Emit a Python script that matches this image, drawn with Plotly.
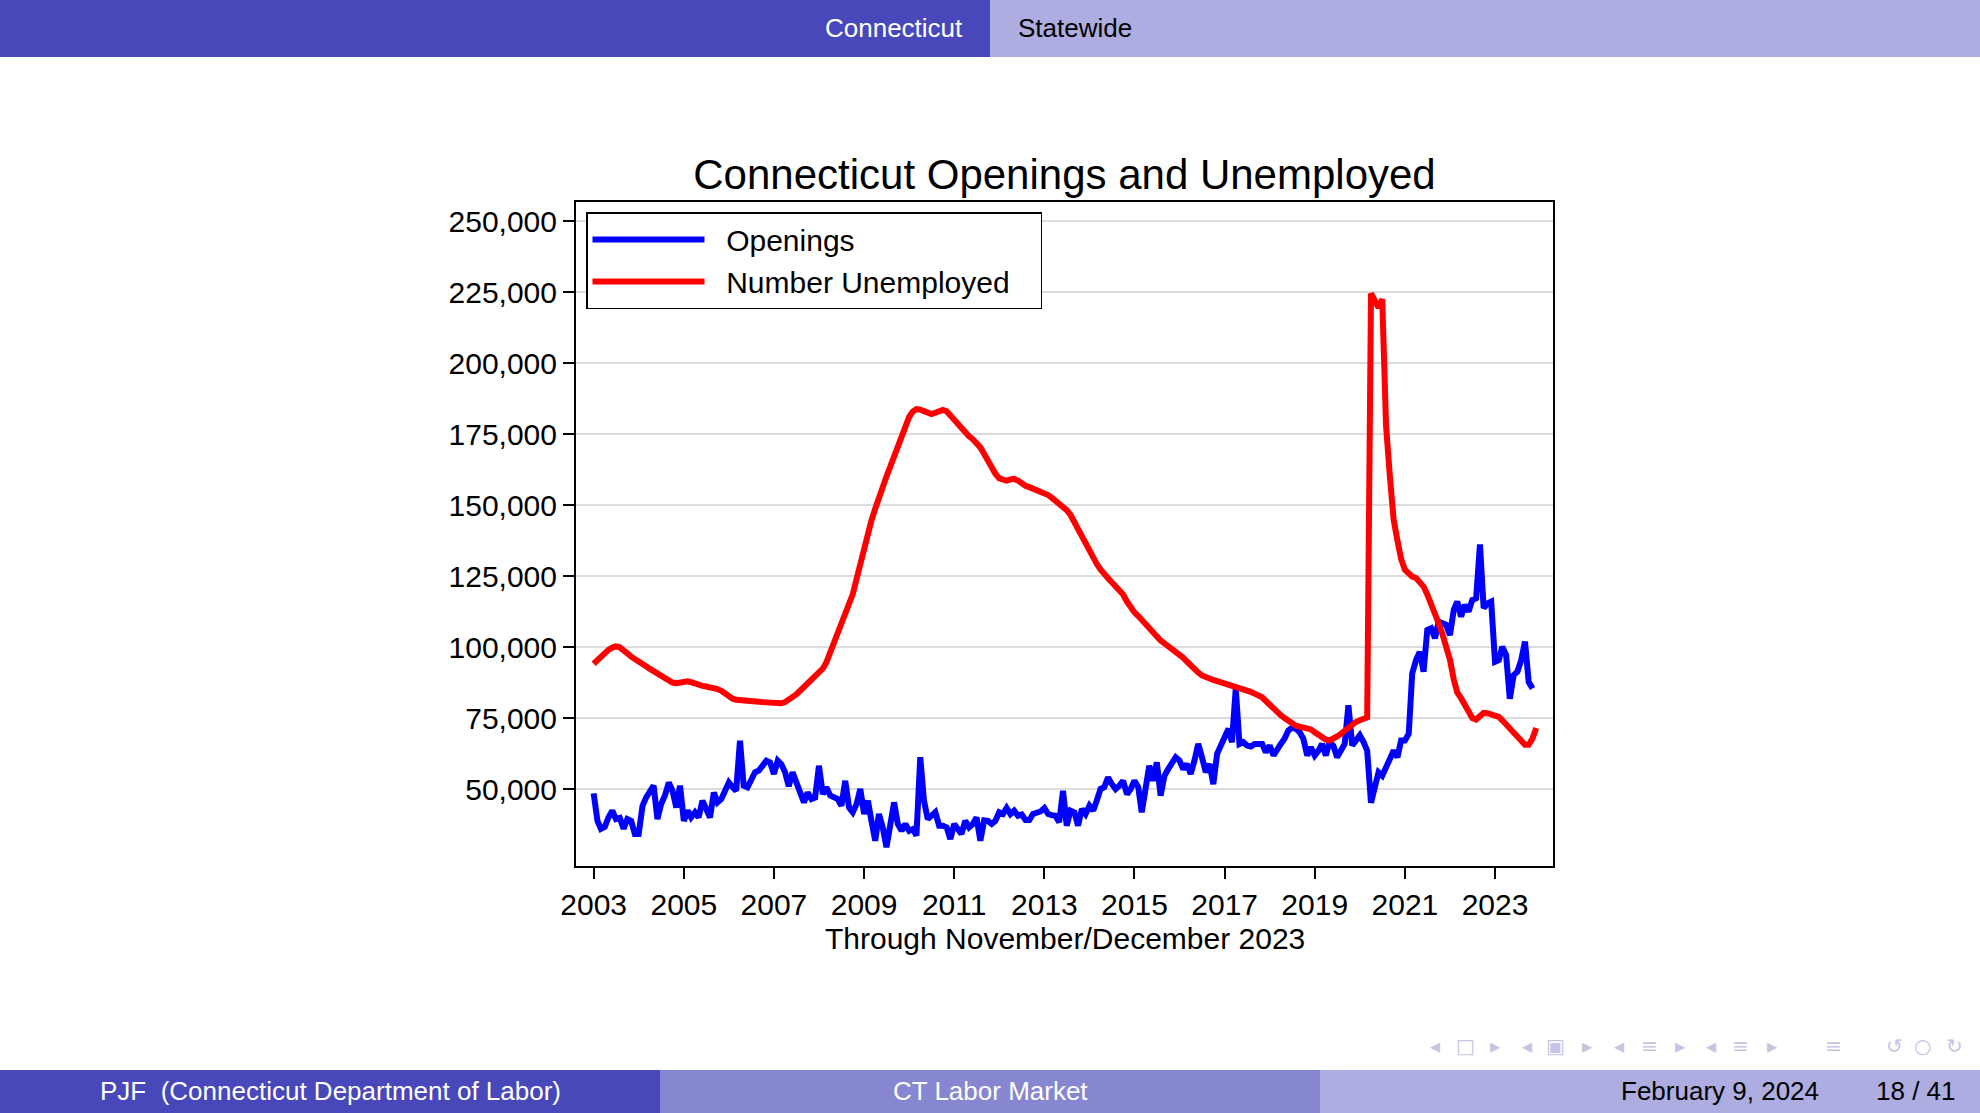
import pandas as pd
import plotly.graph_objects as go

# ---------------- data (thousands, monthly from Jan 2003) ----------------
openings_k = [
    48.5, 38.8, 36.0, 36.7, 40.0, 42.4, 39.4, 39.8, 36.0, 39.4, 38.8, 34.2,
    34.2, 44.1, 47.0, 48.8, 51.2, 39.4, 44.7, 47.7, 52.3, 49.4, 43.5, 51.2,
    38.8, 42.4, 40.0, 41.8, 40.0, 45.9, 42.4, 40.0, 48.8, 45.3, 46.5, 50.0,
    52.3, 50.6, 49.4, 67.0, 51.2, 50.6, 53.5, 55.9, 56.5, 58.2, 60.0, 59.4,
    55.3, 60.0, 58.8, 56.0, 51.0, 55.9, 52.3, 49.4, 45.3, 48.8, 46.5, 47.0,
    58.2, 48.2, 50.6, 47.7, 47.0, 46.5, 44.1, 52.9, 43.5, 41.8, 44.7, 50.0,
    41.2, 45.9, 38.8, 31.8, 41.2, 36.5, 29.5, 36.5, 45.3, 37.7, 35.3, 37.7,
    35.3, 35.9, 33.6, 61.2, 45.9, 39.4, 40.6, 41.8, 37.1, 37.1, 36.5, 32.4,
    37.7, 35.3, 34.2, 38.8, 36.5, 37.7, 40.0, 31.8, 39.0, 38.8, 37.7, 38.8,
    41.8, 41.2, 43.3, 41.2, 42.4, 40.6, 41.0, 39.1, 39.1, 41.2, 41.4, 42.1,
    43.3, 41.2, 40.8, 40.6, 38.3, 49.4, 37.1, 42.4, 41.8, 37.1, 43.0, 41.2,
    44.1, 42.4, 45.9, 50.0, 50.6, 54.1, 51.8, 50.0, 51.2, 52.9, 48.2, 50.0,
    52.9, 50.6, 41.8, 50.0, 58.2, 52.9, 59.4, 47.7, 54.7, 57.0, 59.4, 61.2,
    60.0, 57.0, 58.8, 55.3, 60.0, 65.9, 61.2, 55.9, 58.8, 51.7, 62.4, 65.3,
    67.1, 71.2, 66.5, 85.4, 65.9, 66.5, 65.3, 65.0, 65.9, 66.1, 65.9, 62.9,
    65.3, 61.8, 64.1, 65.9, 67.7, 70.6, 71.6, 71.2, 70.0, 67.7, 61.8, 64.7,
    61.8, 63.5, 65.9, 61.8, 66.5, 65.3, 61.2, 64.1, 65.9, 79.5, 65.3, 67.1,
    68.9, 66.5, 63.5, 45.2, 51.1, 55.9, 54.7, 58.3, 60.6, 63.6, 61.2, 67.1,
    67.1, 69.5, 90.7, 95.4, 98.3, 91.3, 106.0, 106.6, 103.1, 108.9, 108.4, 107.8,
    104.2, 113.1, 116.0, 110.7, 114.8, 112.5, 116.6, 117.2, 136.1, 113.7, 115.4, 116.0,
    94.8, 95.4, 100.1, 97.2, 81.8, 90.1, 91.3, 95.4, 101.9, 87.7, 85.4,
]

unemployed_k = [
    94.1, 95.5, 96.8, 98.0, 99.0, 99.8, 100.2, 99.9, 99.0, 97.8, 96.6, 95.6,
    94.8, 94.0, 93.2, 92.3, 91.5, 90.5, 89.6, 88.6, 88.0, 87.5, 87.3, 87.5,
    87.8, 87.9, 87.6, 87.0, 86.5, 86.3, 86.1, 85.9, 85.6, 85.2, 84.6, 83.6,
    82.6, 81.8, 81.4, 81.2, 81.1, 81.0, 80.9, 80.8, 80.7, 80.6, 80.5, 80.3,
    80.1, 80.0, 80.2, 80.6, 81.3, 82.0, 83.3, 84.6, 86.0, 87.3, 88.5, 89.8,
    91.0, 92.4, 94.6, 98.0, 101.6, 105.0, 108.3, 111.6, 115.0, 118.6, 124.0, 129.5,
    135.0, 140.0, 144.5, 148.7, 152.8, 156.5, 160.0, 163.5, 167.0, 170.5, 174.5, 178.0,
    181.0, 183.0, 183.8, 183.6, 183.2, 182.5, 182.0, 182.5, 183.2, 183.5, 183.0, 181.5,
    180.0, 178.5, 176.6, 175.2, 174.2, 173.2, 172.0, 170.3, 168.0, 165.5, 163.0, 161.0,
    159.4, 158.8, 158.6, 159.0, 159.2, 158.6, 157.6, 156.8, 156.3, 155.8, 155.3, 154.8,
    154.2, 153.5, 152.6, 151.6, 150.8, 149.8, 148.2, 146.5, 144.0, 141.5, 138.8, 136.0,
    133.4, 131.4, 129.3, 127.3, 125.4, 124.2, 122.8, 121.5, 120.3, 118.5, 116.0, 113.6,
    112.2, 110.9, 109.5, 108.2, 106.8, 105.3, 103.6, 102.3, 101.3, 100.4, 99.6, 98.7,
    97.5, 96.2, 94.9, 93.4, 92.2, 91.0, 90.0, 89.3, 88.8, 88.4, 88.0, 87.6,
    87.3, 87.0, 86.5, 86.0, 85.6, 85.2, 84.7, 84.2, 83.6, 83.0, 82.3, 81.0,
    79.6, 78.2, 76.9, 76.0, 75.0, 74.0, 73.0, 72.3, 72.0, 71.8, 71.7, 71.0,
    70.0, 69.0, 68.0, 67.4, 67.1, 67.6, 68.5, 69.4, 70.6, 71.8, 72.8, 73.6,
    74.2, 74.8, 75.2, 224.5, 221.5, 219.5, 222.5, 178.0, 160.0, 145.0, 137.5, 131.0,
    127.2, 125.5, 124.8, 124.3, 122.5, 121.3, 118.5, 115.4, 111.8, 108.4, 104.5, 100.5,
    95.5, 88.5, 84.0, 82.0, 80.0, 77.8, 75.0, 74.5, 75.9, 76.8, 76.7, 76.3,
    75.9, 75.4, 74.2, 72.8, 71.5, 70.0, 68.9, 67.7, 65.6, 65.6, 67.8, 71.5,
]

y_tick_values = [50000, 75000, 100000, 125000, 150000, 175000, 200000, 225000, 250000]
x_tick_years = [2003, 2005, 2007, 2009, 2011, 2013, 2015, 2017, 2019, 2021, 2023]

months_open = pd.date_range("2003-01-01", periods=len(openings_k), freq="MS")
months_unemp = pd.date_range("2003-01-01", periods=len(unemployed_k), freq="MS")
openings = [v * 1000 for v in openings_k]
unemployed = [v * 1000 for v in unemployed_k]

# ---------------- layout helpers (pixel -> paper) ----------------
W, H = 1980, 1113
PL, PR, PT, PB = 576, 1553, 202, 866


def px(x):
    return (x - PL) / (PR - PL)


def py(y):
    return (PB - y) / (PB - PT)


FONT = "Liberation Sans, Arial, Helvetica, sans-serif"
DARK = "#4848BA"
MID = "#8686D1"
LIGHT = "#ADADE1"
NB = "\u00a0"

fig = go.Figure()
fig.add_trace(go.Scatter(x=months_open, y=openings, mode="lines", name=NB * 2 + "Openings",
                         line=dict(color="#0000FF", width=6)))
fig.add_trace(go.Scatter(x=months_unemp, y=unemployed, mode="lines",
                         name=NB * 2 + "Number Unemployed" + NB * 3,
                         line=dict(color="#FF0000", width=6)))

shapes = [
    dict(type="rect", xref="paper", yref="paper", x0=px(0), x1=px(990), y0=py(57), y1=py(0),
         fillcolor=DARK, line=dict(width=0), layer="below"),
    dict(type="rect", xref="paper", yref="paper", x0=px(990), x1=px(W), y0=py(57), y1=py(0),
         fillcolor=LIGHT, line=dict(width=0), layer="below"),
    dict(type="rect", xref="paper", yref="paper", x0=px(0), x1=px(660), y0=py(H), y1=py(1070),
         fillcolor=DARK, line=dict(width=0), layer="below"),
    dict(type="rect", xref="paper", yref="paper", x0=px(660), x1=px(1320), y0=py(H), y1=py(1070),
         fillcolor=MID, line=dict(width=0), layer="below"),
    dict(type="rect", xref="paper", yref="paper", x0=px(1320), x1=px(W), y0=py(H), y1=py(1070),
         fillcolor=LIGHT, line=dict(width=0), layer="below"),
]

annotations = [
    dict(text="Connecticut", x=px(965), y=py(28), xanchor="right", yanchor="middle",
         font=dict(color="white", size=26, family=FONT)),
    dict(text="Statewide", x=px(1016), y=py(28), xanchor="left", yanchor="middle",
         font=dict(color="black", size=26, family=FONT)),
    dict(text="PJF  (Connecticut Department of Labor)", x=px(330), y=py(1091), xanchor="center",
         yanchor="middle", font=dict(color="white", size=26, family=FONT)),
    dict(text="CT Labor Market", x=px(990), y=py(1091), xanchor="center", yanchor="middle",
         font=dict(color="white", size=26, family=FONT)),
    dict(text="February 9, 2024", x=px(1720), y=py(1091), xanchor="center", yanchor="middle",
         font=dict(color="black", size=26, family=FONT)),
    dict(text="18 / 41", x=px(1916), y=py(1091), xanchor="center", yanchor="middle",
         font=dict(color="black", size=26, family=FONT)),
    dict(text="Through November/December 2023", x=0.5, y=py(938), xanchor="center",
         yanchor="middle", font=dict(color="black", size=30, family=FONT)),
]
nav = [("◂", 1435), ("□", 1465), ("▸", 1495), ("◂", 1527), ("▣", 1555), ("▸", 1587),
       ("◂", 1619), ("≡", 1649), ("▸", 1680), ("◂", 1711), ("≡", 1740), ("▸", 1772),
       ("≡", 1833), ("↺", 1894), ("○", 1922), ("↻", 1954)]
for g, xx in nav:
    annotations.append(dict(text=g, x=px(xx), y=py(1046), xanchor="center", yanchor="middle",
                            font=dict(color="#C4C4E4", size=20, family="DejaVu Sans")))
for a in annotations:
    a.update(xref="paper", yref="paper", showarrow=False)

fig.update_layout(
    width=W, height=H, autosize=False,
    margin=dict(l=PL, r=W - PR, t=PT, b=H - PB, pad=0),
    paper_bgcolor="white", plot_bgcolor="white",
    font=dict(family=FONT, color="black", size=30),
    title=dict(text="Connecticut Openings and Unemployed", x=0.5, xref="paper", xanchor="center",
               y=1 - 174 / H, yref="container", yanchor="middle",
               font=dict(size=42, color="black", family=FONT)),
    showlegend=True,
    legend=dict(x=px(586), y=py(212), xanchor="left", yanchor="top", bgcolor="white",
                bordercolor="black", borderwidth=1.5, font=dict(size=30, family=FONT),
                itemwidth=112, tracegroupgap=0),
    shapes=shapes,
    annotations=annotations,
)

fig.update_xaxes(
    type="date", range=["2002-08-11", "2024-04-15"],
    tickvals=[f"{y}-01-01" for y in x_tick_years], ticktext=[str(y) for y in x_tick_years],
    showgrid=False, zeroline=False, showline=True, linecolor="black", linewidth=2, mirror=True,
    ticks="outside", ticklen=11, tickwidth=2, tickcolor="black",
    tickfont=dict(size=30, color="black", family=FONT),
    automargin=False,
)
fig.update_yaxes(
    range=[22900, 256700], tickvals=y_tick_values, tickformat=",d",
    showgrid=True, gridcolor="#DCDCDC", gridwidth=2, zeroline=False,
    showline=True, linecolor="black", linewidth=2, mirror=True,
    ticks="outside", ticklen=11, tickwidth=2, tickcolor="black",
    tickfont=dict(size=30, color="black", family=FONT), automargin=False,
)

fig.write_html("out.html", config={"displayModeBar": False},
               post_script="document.body.style.margin='0';document.body.style.overflow='hidden';")
